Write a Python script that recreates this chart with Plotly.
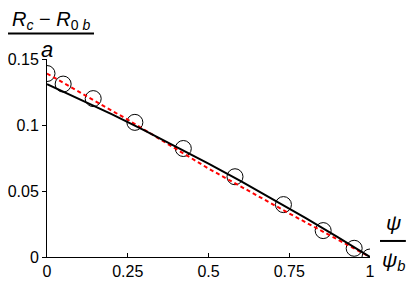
import plotly.graph_objects as go

# Data
circle_x = [0.0, 0.05, 0.143, 0.272, 0.422, 0.582, 0.732, 0.855, 0.951, 1.0]
circle_y = [0.139, 0.131, 0.120, 0.102, 0.0822, 0.0608, 0.0397, 0.020, 0.0066, 0.0]

fit_x = [0.0, 0.1, 0.2, 0.3, 0.4, 0.5, 0.6, 0.7, 0.8, 0.9, 1.0]
fit_y = [0.131, 0.1198, 0.1082, 0.0962, 0.0837, 0.0708, 0.0575, 0.0438, 0.0296, 0.0150, 0.0]

lin_x = [0.0, 0.25, 0.5, 0.75, 1.0]
lin_y = [0.139, 0.104, 0.067, 0.033, 0.0]

x_tickvals = [0, 0.25, 0.5, 0.75, 1]
x_ticktext = ["0", "0.25", "0.5", "0.75", "1"]
y_tickvals = [0, 0.05, 0.1, 0.15]
y_ticktext = ["0", "0.05", "0.1", "0.15"]

FONT = "Liberation Sans, Arial, sans-serif"

fig = go.Figure()
fig.add_trace(go.Scatter(
    x=circle_x, y=circle_y, mode="markers",
    marker=dict(symbol="circle-open", size=16, color="black", line=dict(width=1, color="black")),
    showlegend=False, cliponaxis=True))
fig.add_trace(go.Scatter(
    x=lin_x, y=lin_y, mode="lines",
    line=dict(color="#ff0000", width=2, dash="4px,3px"), showlegend=False))
fig.add_trace(go.Scatter(
    x=fit_x, y=fit_y, mode="lines", line=dict(color="black", width=2), showlegend=False))

# the page body has an 8px margin, so the figure is 8px smaller and margins compensate
fig.update_layout(
    width=407, height=278,
    margin=dict(l=39, r=45, t=51, b=29, autoexpand=False),
    paper_bgcolor="white", plot_bgcolor="white",
    font=dict(family=FONT, size=16, color="black"),
    xaxis=dict(range=[0, 1], tickvals=x_tickvals, ticktext=x_ticktext,
               showgrid=False, zeroline=False, showline=True, linecolor="black", linewidth=1,
               ticks="inside", ticklen=4, tickcolor="black", tickfont=dict(size=16)),
    yaxis=dict(range=[0, 0.15], tickvals=y_tickvals, ticktext=y_ticktext,
               showgrid=False, zeroline=False, showline=True, linecolor="black", linewidth=1,
               ticks="outside", ticklen=4, tickcolor="black", tickfont=dict(size=16)),
    annotations=[
        dict(text="<i>R</i><sub><i>c</i></sub> − <i>R</i><sub>0 <i>b</i></sub>",
             xref="paper", yref="paper", x=0.0124, y=1.192, showarrow=False,
             xanchor="center", yanchor="middle", font=dict(size=20, family=FONT)),
        dict(text="<i>a</i>", xref="paper", yref="paper", x=0.0, y=1.047, showarrow=False,
             xanchor="center", yanchor="middle", font=dict(size=22, family=FONT)),
        dict(text="<i>ψ</i>", xref="paper", yref="paper", x=1.0743, y=0.172, showarrow=False,
             xanchor="center", yanchor="middle", font=dict(size=21, family=FONT)),
        dict(text="<i>ψ</i><sub><i>b</i></sub>", xref="paper", yref="paper", x=1.0743, y=-0.02,
             showarrow=False, xanchor="center", yanchor="middle", font=dict(size=21, family=FONT)),
    ],
    shapes=[
        dict(type="line", xref="paper", yref="paper", x0=-0.1207, x1=0.1455, y0=1.1288, y1=1.1288,
             line=dict(color="black", width=2)),
        dict(type="line", xref="paper", yref="paper", x0=1.031, x1=1.111, y0=0.081, y1=0.081,
             line=dict(color="black", width=2)),
    ],
)

fig.write_html("out.html")
